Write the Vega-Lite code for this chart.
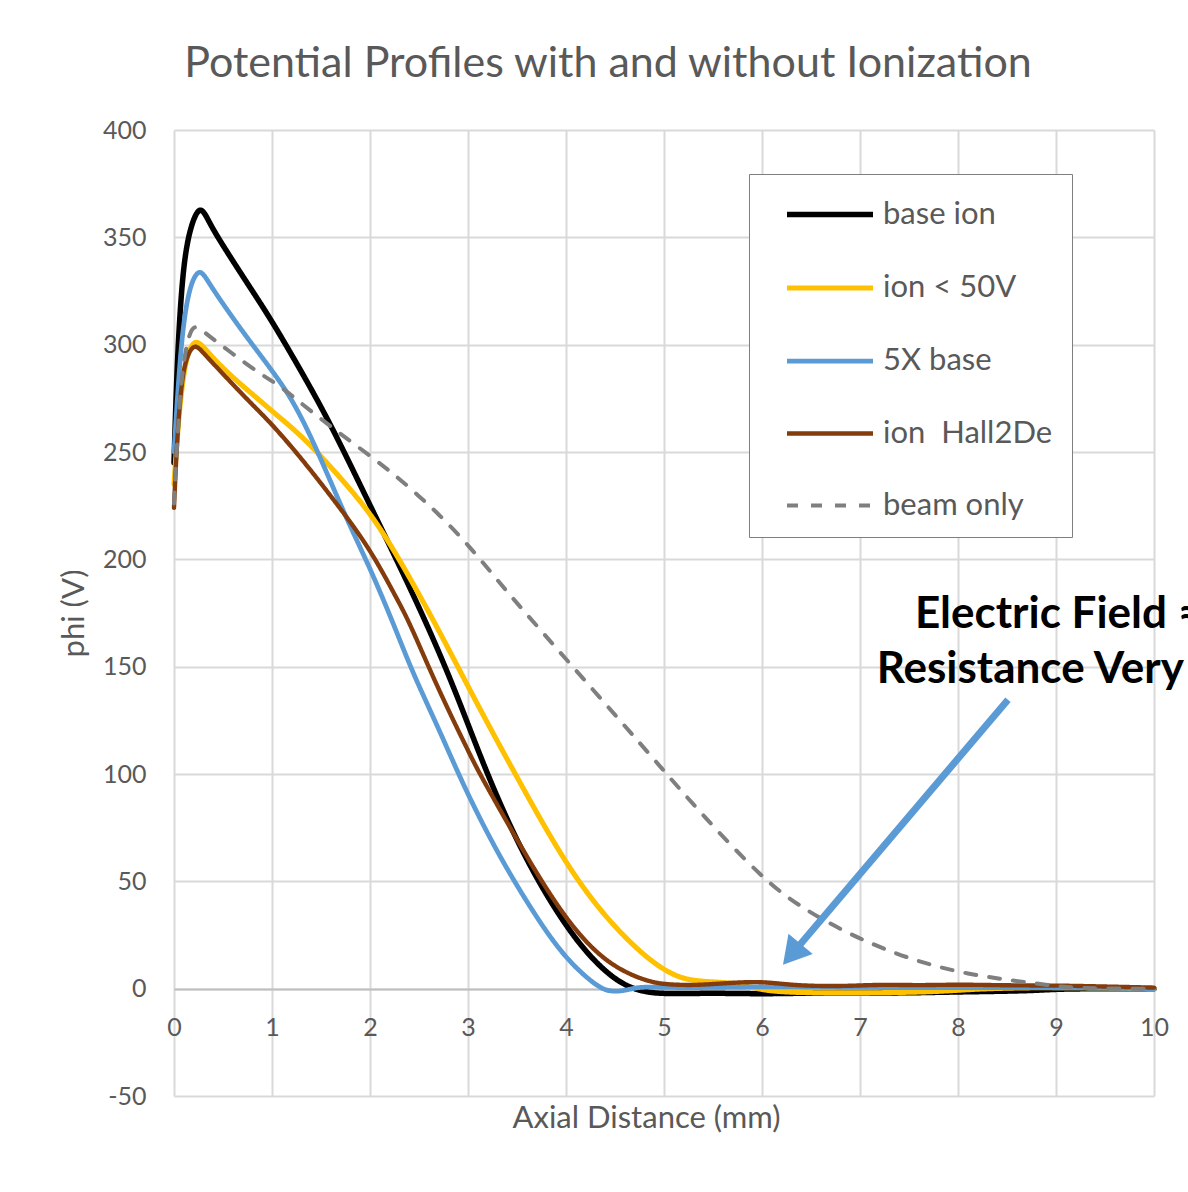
{
  "$schema": "https://vega.github.io/schema/vega-lite/v6.json",
  "width": 980,
  "height": 966,
  "autosize": {"type": "none"},
  "padding": {"left": 174, "top": 130, "right": 34, "bottom": 96},
  "background": "white",
  "config": {"view": {"stroke": null}, "font": "Lato"},
  "title": {"text": "Potential Profiles with and without Ionization", "font": "Lato", "fontSize": 43, "fontWeight": "normal", "color": "#595959", "anchor": "middle", "frame": "group", "dx": -56, "offset": 32},
  "datasets": {
    "curves": [
      {"s":"base ion","x":0,"y":245},{"s":"base ion","x":0.03,"y":290},{"s":"base ion","x":0.07,"y":322},{"s":"base ion","x":0.11,"y":341},{"s":"base ion","x":0.16,"y":353},{"s":"base ion","x":0.22,"y":361},{"s":"base ion","x":0.28,"y":364},{"s":"base ion","x":0.35,"y":358},{"s":"base ion","x":0.42,"y":352},{"s":"base ion","x":0.6,"y":339},{"s":"base ion","x":0.8,"y":325},{"s":"base ion","x":1.0,"y":311},{"s":"base ion","x":1.32,"y":286},{"s":"base ion","x":1.61,"y":262},{"s":"base ion","x":1.97,"y":228},{"s":"base ion","x":2.27,"y":200},{"s":"base ion","x":2.58,"y":170},{"s":"base ion","x":2.87,"y":139},{"s":"base ion","x":3.15,"y":105},{"s":"base ion","x":3.46,"y":72},{"s":"base ion","x":3.8,"y":43},{"s":"base ion","x":4.14,"y":20},{"s":"base ion","x":4.42,"y":7},{"s":"base ion","x":4.62,"y":1},{"s":"base ion","x":4.8,"y":-1.5},{"s":"base ion","x":5.0,"y":-2.5},{"s":"base ion","x":5.5,"y":-2},{"s":"base ion","x":6.0,"y":-2.5},{"s":"base ion","x":6.5,"y":-2},{"s":"base ion","x":7.0,"y":-2},{"s":"base ion","x":7.5,"y":-2},{"s":"base ion","x":8.0,"y":-1.5},{"s":"base ion","x":8.8,"y":-1},{"s":"base ion","x":9.0,"y":0},{"s":"base ion","x":10,"y":0},
      {"s":"ion < 50V","x":0,"y":235},{"s":"ion < 50V","x":0.04,"y":262},{"s":"ion < 50V","x":0.09,"y":285},{"s":"ion < 50V","x":0.15,"y":298},{"s":"ion < 50V","x":0.23,"y":303},{"s":"ion < 50V","x":0.35,"y":296},{"s":"ion < 50V","x":0.59,"y":285},{"s":"ion < 50V","x":0.8,"y":277},{"s":"ion < 50V","x":1.0,"y":269},{"s":"ion < 50V","x":1.32,"y":257},{"s":"ion < 50V","x":1.66,"y":240},{"s":"ion < 50V","x":2.0,"y":222},{"s":"ion < 50V","x":2.29,"y":201},{"s":"ion < 50V","x":2.68,"y":169},{"s":"ion < 50V","x":3.02,"y":139},{"s":"ion < 50V","x":3.29,"y":116},{"s":"ion < 50V","x":3.53,"y":96},{"s":"ion < 50V","x":3.97,"y":60},{"s":"ion < 50V","x":4.38,"y":34},{"s":"ion < 50V","x":4.82,"y":14},{"s":"ion < 50V","x":5.1,"y":6},{"s":"ion < 50V","x":5.3,"y":3.5},{"s":"ion < 50V","x":5.6,"y":3},{"s":"ion < 50V","x":5.8,"y":2},{"s":"ion < 50V","x":6.05,"y":-1.5},{"s":"ion < 50V","x":6.6,"y":-2},{"s":"ion < 50V","x":7.1,"y":-2},{"s":"ion < 50V","x":7.8,"y":-1.5},{"s":"ion < 50V","x":8.2,"y":0},{"s":"ion < 50V","x":8.8,"y":0.5},{"s":"ion < 50V","x":9.2,"y":0.5},{"s":"ion < 50V","x":10,"y":0},
      {"s":"5X base","x":0,"y":250},{"s":"5X base","x":0.05,"y":287},{"s":"5X base","x":0.1,"y":312},{"s":"5X base","x":0.17,"y":329},{"s":"5X base","x":0.265,"y":336},{"s":"5X base","x":0.35,"y":329},{"s":"5X base","x":0.59,"y":313},{"s":"5X base","x":0.8,"y":300},{"s":"5X base","x":1.0,"y":288},{"s":"5X base","x":1.2,"y":275},{"s":"5X base","x":1.4,"y":257},{"s":"5X base","x":1.6,"y":236},{"s":"5X base","x":1.8,"y":215},{"s":"5X base","x":2.0,"y":196},{"s":"5X base","x":2.24,"y":170},{"s":"5X base","x":2.41,"y":150},{"s":"5X base","x":2.61,"y":130},{"s":"5X base","x":2.75,"y":116},{"s":"5X base","x":2.97,"y":93},{"s":"5X base","x":3.29,"y":64},{"s":"5X base","x":3.63,"y":38},{"s":"5X base","x":3.97,"y":15},{"s":"5X base","x":4.31,"y":1},{"s":"5X base","x":4.45,"y":-1.5},{"s":"5X base","x":4.6,"y":-1},{"s":"5X base","x":4.75,"y":1},{"s":"5X base","x":5.0,"y":0.5},{"s":"5X base","x":5.5,"y":0.5},{"s":"5X base","x":6.0,"y":1},{"s":"5X base","x":7.0,"y":0.5},{"s":"5X base","x":8.0,"y":0.5},{"s":"5X base","x":9.0,"y":0.5},{"s":"5X base","x":10,"y":0},
      {"s":"ion \u00a0Hall2De","x":0,"y":224},{"s":"ion \u00a0Hall2De","x":0.03,"y":255},{"s":"ion \u00a0Hall2De","x":0.07,"y":280},{"s":"ion \u00a0Hall2De","x":0.12,"y":294},{"s":"ion \u00a0Hall2De","x":0.21,"y":301},{"s":"ion \u00a0Hall2De","x":0.3,"y":296},{"s":"ion \u00a0Hall2De","x":0.59,"y":282},{"s":"ion \u00a0Hall2De","x":0.8,"y":272},{"s":"ion \u00a0Hall2De","x":1.0,"y":263},{"s":"ion \u00a0Hall2De","x":1.32,"y":246},{"s":"ion \u00a0Hall2De","x":1.66,"y":226},{"s":"ion \u00a0Hall2De","x":2.0,"y":205},{"s":"ion \u00a0Hall2De","x":2.27,"y":182},{"s":"ion \u00a0Hall2De","x":2.4,"y":171},{"s":"ion \u00a0Hall2De","x":2.68,"y":141},{"s":"ion \u00a0Hall2De","x":3.02,"y":109},{"s":"ion \u00a0Hall2De","x":3.12,"y":100},{"s":"ion \u00a0Hall2De","x":3.46,"y":72.5},{"s":"ion \u00a0Hall2De","x":3.8,"y":46},{"s":"ion \u00a0Hall2De","x":4.14,"y":24},{"s":"ion \u00a0Hall2De","x":4.48,"y":10},{"s":"ion \u00a0Hall2De","x":4.82,"y":3.5},{"s":"ion \u00a0Hall2De","x":5.0,"y":2},{"s":"ion \u00a0Hall2De","x":5.3,"y":1.5},{"s":"ion \u00a0Hall2De","x":5.6,"y":2.5},{"s":"ion \u00a0Hall2De","x":6.0,"y":3.5},{"s":"ion \u00a0Hall2De","x":6.3,"y":1.5},{"s":"ion \u00a0Hall2De","x":6.8,"y":1},{"s":"ion \u00a0Hall2De","x":7.2,"y":2},{"s":"ion \u00a0Hall2De","x":7.6,"y":1.5},{"s":"ion \u00a0Hall2De","x":8.0,"y":2},{"s":"ion \u00a0Hall2De","x":8.5,"y":1.5},{"s":"ion \u00a0Hall2De","x":9.0,"y":1.5},{"s":"ion \u00a0Hall2De","x":9.5,"y":1},{"s":"ion \u00a0Hall2De","x":10,"y":0.5},
      {"s":"beam only","x":0,"y":226},{"s":"beam only","x":0.04,"y":262},{"s":"beam only","x":0.09,"y":292},{"s":"beam only","x":0.18,"y":311},{"s":"beam only","x":0.3,"y":306},{"s":"beam only","x":0.59,"y":296},{"s":"beam only","x":0.89,"y":286},{"s":"beam only","x":1.08,"y":281},{"s":"beam only","x":1.42,"y":268},{"s":"beam only","x":1.83,"y":254},{"s":"beam only","x":2.24,"y":240},{"s":"beam only","x":2.51,"y":229},{"s":"beam only","x":2.68,"y":222},{"s":"beam only","x":3.0,"y":207},{"s":"beam only","x":3.36,"y":187},{"s":"beam only","x":3.53,"y":178},{"s":"beam only","x":4.01,"y":153},{"s":"beam only","x":4.55,"y":125},{"s":"beam only","x":4.99,"y":102},{"s":"beam only","x":5.37,"y":82},{"s":"beam only","x":6.01,"y":51},{"s":"beam only","x":6.39,"y":38},{"s":"beam only","x":6.9,"y":25},{"s":"beam only","x":7.48,"y":14},{"s":"beam only","x":8.09,"y":6.5},{"s":"beam only","x":8.77,"y":2.6},{"s":"beam only","x":9.11,"y":0.5},{"s":"beam only","x":9.5,"y":0},{"s":"beam only","x":10,"y":0}
    ],
    "notes": [
      {"label": "Electric Field ≈", "x": 7.56, "y": 168.2},
      {"label": "Resistance Very", "x": 7.17, "y": 142.5}
    ],
    "arrow": [
      {"x": 8.51, "y": 134.6, "x2": 6.378, "y2": 20.0, "hx": 6.304, "hy": 16.0, "angle": 220}
    ]
  },
  "layer": [
    {
      "data": {"name": "curves"},
      "mark": {"type": "line", "strokeCap": "round", "strokeJoin": "round", "interpolate": "basis"},
      "encoding": {
        "x": {"field": "x", "type": "quantitative", "scale": {"domain": [0, 10], "nice": false, "zero": false},
          "axis": {"values": [0,1,2,3,4,5,6,7,8,9,10], "format": "d", "labelFlush": false, "labelOverlap": false, "grid": true, "gridColor": "#d9d9d9", "gridWidth": 2, "domainColor": "#bfbfbf", "domainWidth": 2, "offset": -107, "ticks": false, "labelPadding": 26, "labelFont": "Lato", "labelFontSize": 25, "labelColor": "#595959", "title": "Axial Distance (mm)", "titleFont": "Lato", "titleFontSize": 31, "titleFontWeight": "normal", "titleColor": "#595959", "titlePadding": 63, "titleX": 472, "titleAlign": "center"}},
        "y": {"field": "y", "type": "quantitative", "scale": {"domain": [-50, 400], "nice": false, "zero": false},
          "axis": {"values": [-50,0,50,100,150,200,250,300,350,400], "labelExpr": "'' + datum.value", "grid": true, "gridColor": "#d9d9d9", "gridWidth": 2, "domain": false, "ticks": false, "labelPadding": 28, "labelFont": "Lato", "labelFontSize": 25, "labelColor": "#595959", "title": "phi (V)", "titleFont": "Lato", "titleFontSize": 31, "titleFontWeight": "normal", "titleColor": "#595959", "titlePadding": 12}},
        "color": {"field": "s", "type": "nominal", "title": null,
          "scale": {"domain": ["base ion", "ion < 50V", "5X base", "ion \u00a0Hall2De", "beam only"], "range": ["#000000", "#ffc000", "#5b9bd5", "#843c0c", "#7f7f7f"]},
          "legend": {"orient": "none", "legendX": 575, "legendY": 44, "symbolType": "M-2,0H2M10,0", "symbolSize": 1849, "symbolOffset": 40.5, "labelOffset": 28.5, "padding": 16, "rowPadding": 33.5, "strokeColor": "#7f7f7f", "fillColor": "white", "labelFont": "Lato", "labelFontSize": 31, "labelColor": "#595959", "labelLimit": 400}},
        "strokeWidth": {"field": "s", "type": "nominal", "title": null,
          "scale": {"domain": ["base ion", "ion < 50V", "5X base", "ion \u00a0Hall2De", "beam only"], "range": [5.5, 4, 4, 5.5, 4]}},
        "strokeDash": {"field": "s", "type": "nominal", "title": null,
          "scale": {"domain": ["base ion", "ion < 50V", "5X base", "ion \u00a0Hall2De", "beam only"], "range": [[1,0],[1,0],[1,0],[1,0],[11,13]]}}
      }
    },
    {
      "data": {"name": "arrow"},
      "mark": {"type": "rule", "color": "#5b9bd5", "strokeWidth": 7},
      "encoding": {
        "x": {"field": "x", "type": "quantitative"},
        "y": {"field": "y", "type": "quantitative"},
        "x2": {"field": "x2"},
        "y2": {"field": "y2"}
      }
    },
    {
      "data": {"name": "arrow"},
      "mark": {"type": "point", "shape": "triangle-up", "filled": true, "color": "#5b9bd5", "size": 1000, "opacity": 1},
      "encoding": {
        "x": {"field": "hx", "type": "quantitative"},
        "y": {"field": "hy", "type": "quantitative"},
        "angle": {"field": "angle", "type": "quantitative", "scale": null}
      }
    },
    {
      "data": {"name": "notes"},
      "mark": {"type": "text", "align": "left", "baseline": "alphabetic", "font": "Lato", "fontSize": 44, "fontWeight": "bold", "color": "#000000"},
      "encoding": {
        "x": {"field": "x", "type": "quantitative"},
        "y": {"field": "y", "type": "quantitative"},
        "text": {"field": "label"}
      }
    }
  ]
}
